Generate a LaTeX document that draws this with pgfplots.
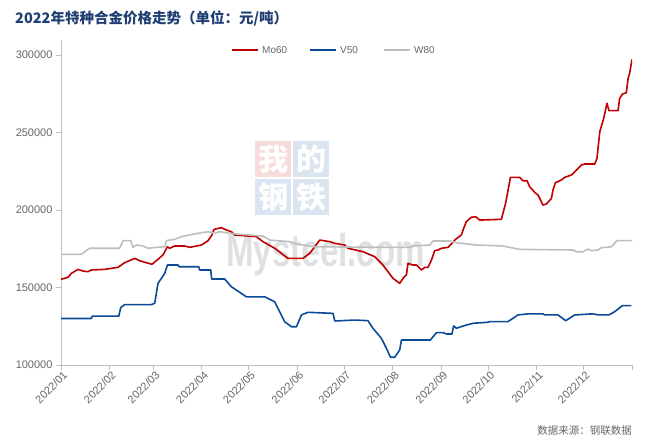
\documentclass[border=0pt]{standalone}
\usepackage{fontspec}
\usepackage{pgfplots}
\pgfplotsset{compat=1.18}
\setmainfont{Liberation Sans}
\newfontfamily\cjk{Noto Sans CJK SC}
\definecolor{mored}{HTML}{C00000}
\definecolor{vblue}{HTML}{0B4A97}
\definecolor{wgray}{HTML}{BEBEBE}
\definecolor{axgray}{HTML}{BFBFBF}
\definecolor{txtgray}{HTML}{666666}
\definecolor{titleblue}{HTML}{1F3F73}
\definecolor{wmpink}{HTML}{F7DADA}
\definecolor{wmblue}{HTML}{DAE5F1}
\definecolor{wmgray}{HTML}{E0E0E0}
\begin{document}
\begin{tikzpicture}[x=1pt,y=1pt]
\useasboundingbox (0,0) rectangle (655,443);
% title
\node[anchor=west, text=titleblue, font=\cjk\bfseries\fontsize{14.5}{16}\selectfont, inner sep=0] at (15,424) {2022年特种合金价格走势（单位：元/吨）};
% watermark
\fill[wmpink] (255,266) rectangle (291,302);
\fill[wmblue] (293,266) rectangle (329,302);
\fill[wmblue] (255,228) rectangle (291,264);
\fill[wmblue] (293,228) rectangle (329,264);
\node[text=white, font=\cjk\bfseries\fontsize{30}{30}\selectfont] at (273,284) {我};
\node[text=white, font=\cjk\bfseries\fontsize{30}{30}\selectfont] at (311,284) {的};
\node[text=white, font=\cjk\bfseries\fontsize{30}{30}\selectfont] at (273,246) {钢};
\node[text=white, font=\cjk\bfseries\fontsize{30}{30}\selectfont] at (311,246) {铁};
\node[text=wmgray, font=\bfseries\fontsize{46}{46}\selectfont, xscale=0.72, anchor=west, inner sep=0] at (226,188) {Mysteel.com};
% source
\node[anchor=east, text=txtgray, font=\cjk\fontsize{10.5}{12}\selectfont, inner sep=0] at (632,12) {数据来源：钢联数据};
% legend
\draw[mored, line width=1.6pt] (232,393) -- (258,393);
\node[anchor=west, inner sep=0, text=txtgray, font=\fontsize{10}{12}\selectfont] at (262,393) {Mo60};
\draw[vblue, line width=1.6pt] (310,393) -- (336,393);
\node[anchor=west, inner sep=0, text=txtgray, font=\fontsize{10}{12}\selectfont] at (340,393) {V50};
\draw[wgray, line width=1.6pt] (384,393) -- (410,393);
\node[anchor=west, inner sep=0, text=txtgray, font=\fontsize{10}{12}\selectfont] at (414,393) {W80};
\begin{axis}[
  at={(61pt,78pt)}, anchor=south west,
  scale only axis, width=571pt, height=325pt,
  xmin=0, xmax=365, ymin=100000, ymax=309700,
  axis x line*=bottom, axis y line*=left,
  axis line style={draw=axgray, line width=0.8pt},
  tick style={draw=axgray, line width=0.8pt},
  tick align=outside, major tick length=5pt,
  xtick={0,31,59,90,120,151,181,212,243,273,304,334,365},
  xticklabels={2022/01,2022/02,2022/03,2022/04,2022/05,2022/06,2022/07,2022/08,2022/09,2022/10,2022/11,2022/12,{}},
  xticklabel style={rotate=45, anchor=north east, font=\fontsize{11}{13}\selectfont, text=txtgray, inner sep=1pt, xshift=2pt},
  ytick={100000,150000,200000,250000,300000},
  yticklabels={100000,150000,200000,250000,300000},
  yticklabel style={font=\fontsize{11}{13}\selectfont, text=txtgray},
  scaled y ticks=false,
  every axis plot/.append style={line width=1.6pt, line join=round},
]
\addplot[mored] coordinates {
(0,155300)(4.5,156600)(6.6,159100)(10.9,161700)(14.1,160600)(17.3,160200)(19.4,161300)
(27.9,161700)(36.4,163000)(40.7,166000)(47.1,168800)(50.3,167300)(53.5,166300)(58.2,165000)
(62.0,168200)(65.2,171000)(68.0,176300)(69.5,175300)(72.7,176800)(79.1,176800)(82.3,175900)
(89.7,177400)(94.0,180200)(96.5,183900)(97.8,187500)(102.5,188600)(105.7,187100)(108.9,186000)
(111.0,183900)(124.9,182800)(129.1,179600)(136.6,175300)(145.1,168800)(154.7,168800)
(159.0,172100)(162.2,176300)(165.4,180600)(171.8,179600)(175.0,178500)(181.3,177400)
(183.5,175300)(193.0,173100)(200.5,169900)(205.8,164500)(212.2,155900)(216.5,152700)
(218.6,155900)(220.8,158100)(221.8,165600)(225.0,164500)(227.2,164500)(230.4,161300)
(232.5,163000)(234.6,163000)(236.8,167700)(238.9,173800)(241.0,174200)(243.2,175300)
(247.4,175900)(249.5,178100)(251.7,180600)(255.9,183900)(257.4,188200)(259.1,192500)
(262.3,195300)(265.1,195700)(267.6,193500)(281.5,194000)(284.2,204300)(287.3,221100)
(293.2,221100)(295.3,218900)(297.9,218900)(299.6,215000)(302.8,211400)(304.9,209700)
(308.1,203200)(310.3,203900)(313.5,207500)(314.5,212900)(316.0,217600)(319.9,219400)
(322.0,221100)(326.3,222600)(328.4,224700)(332.6,229000)(334.8,229700)(341.2,229700)
(342.6,233300)(344.4,250500)(346.9,259100)(349.0,268800)(350.3,264100)(356.1,264100)
(357.1,272000)(358.9,274800)(361.4,275700)(362.5,285000)(363.5,288200)(365,297200)
};
\addplot[vblue] coordinates {
(0,130000)(19.4,130000)(20,131500)(36.9,131500)(38.2,137000)(40.7,139000)(57.8,139000)
(59.9,139800)(62.0,152700)(66.3,159100)(68.0,164500)(74.8,164500)(75.5,163400)(88.0,163400)
(88.6,161300)(95.7,161300)(96.3,155500)(104.6,155500)(108.9,150500)(118.5,144000)
(130.2,144000)(136.6,140800)(143.0,127900)(147.3,124700)(150.5,124700)(153.7,132300)
(157.9,134000)(173.9,133300)(175.0,128400)(187.7,129000)(196.2,128600)(199.4,123700)
(204.8,117200)(208.0,110800)(210.6,105000)(213.3,105000)(216.5,109700)(217.6,116100)
(236.1,116100)(240.0,120900)(244.2,120900)(246.4,120000)(249.9,120000)(251.0,125200)
(252.7,123700)(259.1,125800)(263.4,126900)(272.9,127600)(274.0,128000)(285.7,128000)
(292.1,132300)(298.5,133000)(308.1,133000)(309.2,132300)(317.7,132300)(322.6,128600)
(328.4,132300)(340.1,133000)(343.3,132300)(350.3,132300)(353.9,134400)(356.1,136100)
(358.9,138300)(364.6,138300)
};
\addplot[wgray] coordinates {
(0,171400)(13.0,171400)(16.2,173800)(18.3,175300)(37.5,175300)(39.6,180200)(44.6,180200)
(46.0,175900)(48.2,177400)(52.4,176800)(55.6,175300)(61.0,175900)(66.3,176300)(67.4,180200)
(72.7,181100)(77.0,182800)(82.3,183900)(87.6,185000)(94.0,186000)(98.2,185000)(101.4,186000)
(105,185400)(112.1,184500)(129.1,183200)(133.4,180600)(146.2,179600)(150.5,178100)
(161.1,176300)(210.1,175900)(222.9,175900)(225.0,176800)(235.7,177400)(237.8,180000)
(248.5,180000)(252.7,178900)(265.5,177400)(282.5,176800)(293.2,174600)(327.3,174200)
(329.4,173100)(333.7,173100)(336.9,174800)(339.0,173800)(343.3,174200)(345.4,175700)
(351.8,176300)(355.4,180200)(365,180200)
};
\end{axis}
\end{tikzpicture}
\end{document}
